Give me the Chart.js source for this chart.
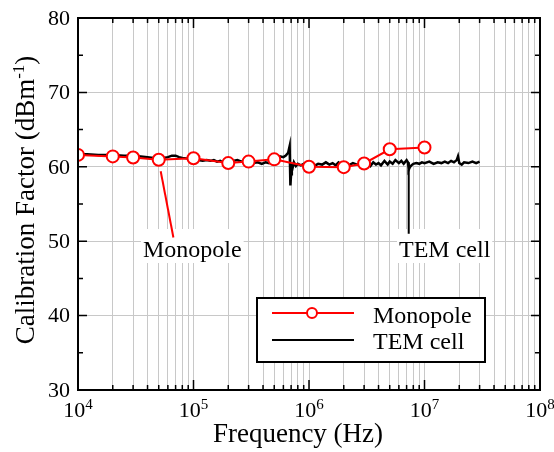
<!DOCTYPE html>
<html>
<head>
<meta charset="utf-8">
<script src="https://cdn.jsdelivr.net/npm/chart.js@4/dist/chart.umd.min.js"></script>
<style>
  body { margin: 0; background: #fff; }
  canvas { display: block; }
</style>
</head>
<body>
<canvas id="cfChart" width="554" height="452"></canvas>
<script>
// data
const monoFreq = [1e4, 2e4, 3e4, 5e4, 1e5, 2e5, 3e5, 5e5, 1e6, 2e6, 3e6, 5e6, 1e7];
const monoCF = [61.6, 61.4, 61.25, 60.95, 61.15, 60.5, 60.7, 61.0, 60.0, 59.95, 60.45, 62.35, 62.6];

const temFreq = [
  1e4, 1.2e4, 1.5e4, 2e4, 2.5e4, 3e4, 3.5e4, 4e4, 4.5e4, 5e4, 5.5e4, 6e4, 6.5e4, 7e4, 7.5e4, 8e4, 9e4,
  1e5, 1.1e5, 1.2e5, 1.3e5, 1.4e5, 1.5e5, 1.6e5, 1.7e5, 1.8e5, 2e5, 2.2e5, 2.4e5, 2.6e5, 2.8e5, 3e5,
  3.3e5, 3.6e5, 3.9e5, 4.2e5, 4.5e5, 4.8e5, 5e5, 5.3e5, 5.6e5, 6e5, 6.3e5, 6.6e5, 6.8e5, 6.85e5, 6.9e5,
  7e5, 7.1e5, 7.2e5, 7.4e5, 7.7e5, 8e5, 8.5e5, 9e5, 9.5e5,
  1e6, 1.1e6, 1.2e6, 1.3e6, 1.4e6, 1.5e6, 1.6e6, 1.7e6, 1.8e6, 1.9e6, 2e6, 2.2e6, 2.4e6, 2.6e6, 2.8e6,
  3e6, 3.2e6, 3.4e6, 3.6e6, 3.8e6, 4e6, 4.2e6, 4.5e6, 4.8e6, 5e6, 5.3e6, 5.6e6, 6e6, 6.3e6, 6.6e6,
  7e6, 7.2e6, 7.3e6, 7.5e6, 7.7e6, 8e6, 8.5e6, 9e6, 9.5e6,
  1e7, 1.1e7, 1.2e7, 1.3e7, 1.4e7, 1.5e7, 1.6e7, 1.7e7, 1.8e7, 1.9e7, 1.95e7, 2e7, 2.1e7, 2.2e7,
  2.4e7, 2.6e7, 2.8e7, 3e7
];
const temCF = [
  61.7, 61.7, 61.6, 61.6, 61.5, 61.5, 61.4, 61.3, 61.2, 61.1, 61.2, 61.3, 61.5, 61.5, 61.3, 61.2, 61.1,
  61.1, 60.9, 60.8, 60.9, 60.8, 60.9, 60.7, 60.8, 60.6, 60.6, 60.8, 60.9, 60.7, 60.8, 60.7,
  60.5, 60.6, 60.4, 60.6, 60.5, 60.8, 61.0, 61.2, 61.4, 61.3, 61.5, 61.9, 62.8, 60.0, 57.5,
  59.0, 60.5, 59.8, 60.6, 60.1, 60.4, 60.2, 60.4, 60.2,
  60.3, 60.1, 60.4, 60.3, 60.6, 60.3, 60.5, 60.2, 60.6, 60.3, 60.4, 60.2, 60.5, 60.3, 60.4,
  60.2, 60.5, 60.1, 60.6, 60.3, 60.5, 60.2, 60.8, 60.3, 60.7, 60.4, 60.9, 60.5, 60.8, 60.4,
  60.9, 60.6, 59.6, 60.0, 60.2, 60.4, 60.5, 60.4, 60.6,
  60.5, 60.7, 60.4, 60.6, 60.5, 60.7, 60.5, 60.8, 60.6, 60.9, 61.4, 60.5, 60.3, 60.6,
  60.5, 60.7, 60.5, 60.7
];

const xExponents = [4, 5, 6, 7, 8];
const yTicks = [30, 40, 50, 60, 70, 80];

// annotation pointers, in data units
const monoNote = { text: 'Monopole', from: [5.2e4, 59.4], to: [6.7e4, 50.5] };
const temNote = { text: 'TEM cell', from: [7.3e6, 59.6], to: [7.3e6, 51.0] };

const FONT = '"Liberation Serif", "Times New Roman", serif';
const RED = '#ff0000';

const toPts = (xs, ys) => xs.map((f, i) => ({ x: f, y: ys[i] }));

const overlay = {
  id: 'overlay',
  beforeDatasetsDraw(chart) {
    const ctx = chart.ctx;
    ctx.save();
    ctx.font = '24px ' + FONT;
    ctx.textBaseline = 'alphabetic';
    ctx.textAlign = 'left';
    [[monoNote, 143], [temNote, 399]].forEach(([n, lx]) => {
      const w = ctx.measureText(n.text).width;
      ctx.fillStyle = '#fff';
      ctx.fillRect(lx - 2, 229, w + 4, 34);
      ctx.fillStyle = '#000';
      ctx.fillText(n.text, lx, 257);
    });
    ctx.restore();
  },
  afterDraw(chart) {
    const { ctx, chartArea: a, scales: { x, y } } = chart;
    ctx.save();

    // pointer lines
    ctx.lineWidth = 2;
    [[monoNote, RED], [temNote, '#000']].forEach(([n, c]) => {
      ctx.strokeStyle = c;
      ctx.beginPath();
      ctx.moveTo(x.getPixelForValue(n.from[0]), y.getPixelForValue(n.from[1]));
      ctx.lineTo(x.getPixelForValue(n.to[0]), y.getPixelForValue(n.to[1]));
      ctx.stroke();
    });

    // tick marks (inside)
    ctx.strokeStyle = '#000';
    ctx.lineWidth = 1.5;
    ctx.beginPath();
    for (let v = 30; v <= 80; v += 5) {
      const py = y.getPixelForValue(v);
      const len = v % 10 === 0 ? 9 : 5;
      ctx.moveTo(a.left, py); ctx.lineTo(a.left + len, py);
      ctx.moveTo(a.right, py); ctx.lineTo(a.right - len, py);
    }
    xExponents.forEach(e => {
      for (let m = 1; m <= 9; m++) {
        if (e === 8 && m > 1) break;
        const px = x.getPixelForValue(m * Math.pow(10, e));
        const len = m === 1 ? 10 : 5;
        ctx.moveTo(px, a.bottom); ctx.lineTo(px, a.bottom - len);
        ctx.moveTo(px, a.top); ctx.lineTo(px, a.top + len);
      }
    });
    ctx.stroke();

    // frame
    ctx.lineWidth = 2;
    ctx.strokeRect(a.left, a.top, a.right - a.left, a.bottom - a.top);

    // y tick labels
    ctx.fillStyle = '#000';
    ctx.font = '22px ' + FONT;
    ctx.textAlign = 'right';
    ctx.textBaseline = 'middle';
    yTicks.forEach(v => ctx.fillText(String(v), a.left - 8, y.getPixelForValue(v) + 1));

    // x tick labels 10^n
    ctx.textAlign = 'left';
    ctx.textBaseline = 'alphabetic';
    xExponents.forEach(e => {
      const px = x.getPixelForValue(Math.pow(10, e));
      ctx.font = '22px ' + FONT;
      const wb = ctx.measureText('10').width;
      ctx.font = '15px ' + FONT;
      const we = ctx.measureText(String(e)).width;
      const x0 = px - (wb + we) / 2;
      ctx.font = '22px ' + FONT;
      ctx.fillText('10', x0, a.bottom + 27);
      ctx.font = '15px ' + FONT;
      ctx.fillText(String(e), x0 + wb, a.bottom + 19);
    });

    // x title
    ctx.font = '27px ' + FONT;
    ctx.textAlign = 'center';
    ctx.fillText('Frequency (Hz)', 298, a.bottom + 52);

    // y title with superscript
    ctx.save();
    ctx.translate(34, 200);
    ctx.rotate(-Math.PI / 2);
    const p1 = 'Calibration Factor (dBm', sup = '-1', p2 = ')';
    ctx.font = '27px ' + FONT;
    const w1 = ctx.measureText(p1).width, w2 = ctx.measureText(p2).width;
    ctx.font = '17px ' + FONT;
    const ws = ctx.measureText(sup).width;
    let sx = -(w1 + ws + w2) / 2;
    ctx.textAlign = 'left';
    ctx.font = '27px ' + FONT;
    ctx.fillText(p1, sx, 0);
    ctx.font = '17px ' + FONT;
    ctx.fillText(sup, sx + w1, -10);
    ctx.font = '27px ' + FONT;
    ctx.fillText(p2, sx + w1 + ws, 0);
    ctx.restore();

    // legend
    ctx.fillStyle = '#fff';
    ctx.fillRect(257, 298, 228, 64);
    ctx.lineWidth = 2;
    ctx.strokeStyle = '#000';
    ctx.strokeRect(257, 298, 228, 64);
    ctx.lineWidth = 2;
    ctx.strokeStyle = RED;
    ctx.beginPath(); ctx.moveTo(272, 313); ctx.lineTo(354, 313); ctx.stroke();
    ctx.fillStyle = '#fff';
    ctx.beginPath(); ctx.arc(312, 313, 5, 0, Math.PI * 2); ctx.fill(); ctx.stroke();
    ctx.strokeStyle = '#000';
    ctx.beginPath(); ctx.moveTo(272, 340); ctx.lineTo(354, 340); ctx.stroke();
    ctx.fillStyle = '#000';
    ctx.font = '24px ' + FONT;
    ctx.textAlign = 'left';
    ctx.fillText('Monopole', 373, 323);
    ctx.fillText('TEM cell', 373, 349);

    ctx.restore();
  }
};

const gridStyle = { color: '#c8c8c8', lineWidth: 1, drawTicks: false };

new Chart(document.getElementById('cfChart'), {
  type: 'line',
  data: {
    datasets: [
      {
        label: 'Monopole',
        data: toPts(monoFreq, monoCF),
        borderColor: RED,
        borderWidth: 2,
        pointRadius: 6,
        pointBorderWidth: 2,
        pointBackgroundColor: '#fff',
        pointBorderColor: RED,
        tension: 0,
      },
      {
        label: 'TEM cell',
        data: toPts(temFreq, temCF),
        borderColor: '#000',
        borderWidth: 2.5,
        pointRadius: 0,
        tension: 0,
      },
    ],
  },
  options: {
    responsive: false,
    animation: false,
    events: [],
    layout: { padding: { left: 78, top: 18, right: 14, bottom: 62 } },
    plugins: { legend: { display: false }, tooltip: { enabled: false } },
    scales: {
      x: {
        type: 'logarithmic',
        min: 1e4,
        max: 1e8,
        grid: gridStyle,
        border: { display: false },
        ticks: { display: false },
        afterBuildTicks: (axis) => {
          const t = [];
          xExponents.forEach(e => {
            for (let m = 1; m <= 9; m++) {
              if (e === 8 && m > 1) break;
              t.push({ value: m * Math.pow(10, e) });
            }
          });
          axis.ticks = t;
        },
      },
      y: {
        min: 30,
        max: 80,
        grid: gridStyle,
        border: { display: false },
        ticks: { display: false, stepSize: 10 },
        afterBuildTicks: (axis) => {
          axis.ticks = yTicks.map(v => ({ value: v }));
        },
      },
    },
  },
  plugins: [overlay],
});
</script>
</body>
</html>
